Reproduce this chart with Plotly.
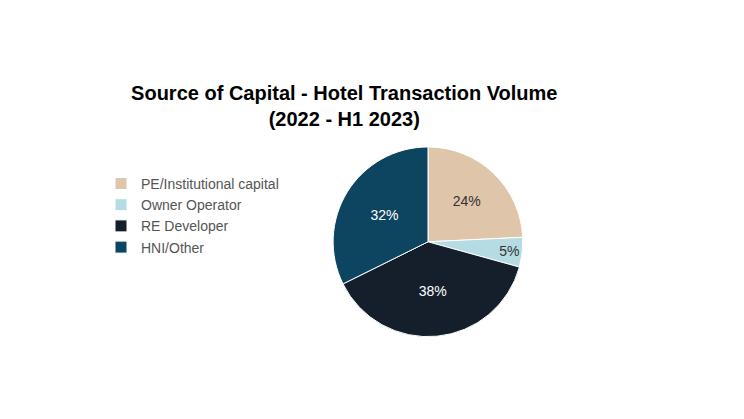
import plotly.graph_objects as go

labels = ["PE/Institutional capital", "Owner Operator", "RE Developer", "HNI/Other"]
values = [24, 5, 38, 32]
colors = ["#dfc5a9", "#b5dce3", "#141f2b", "#0d4560"]
text_colors = ["#333333", "#333333", "white", "white"]

fig = go.Figure(go.Pie(
    labels=labels, values=values, sort=False, direction="clockwise", rotation=0,
    marker=dict(colors=colors, line=dict(color="white", width=1)),
    texttemplate="%{value}%", textposition="inside", insidetextorientation="horizontal",
    textfont=dict(size=14, color=text_colors, family="Liberation Sans"),
    domain=dict(x=[0.437, 0.692], y=[0.215, 0.669]),
))
fig.update_layout(
    width=744, height=419, margin=dict(l=0, r=0, t=0, b=0),
    paper_bgcolor="white", font=dict(family="Liberation Sans", color="#444444"),
    title=dict(text="<b>Source of Capital - Hotel Transaction Volume<br>(2022 - H1 2023)</b>",
               x=0.452, xanchor="center", y=0.78, yanchor="middle",
               font=dict(size=20, color="black")),
    legend=dict(x=0.125, y=0.505, xanchor="left", yanchor="middle",
                font=dict(size=14, color="#555555"), itemwidth=30, tracegroupgap=0),
)
fig.write_html("out.html")
